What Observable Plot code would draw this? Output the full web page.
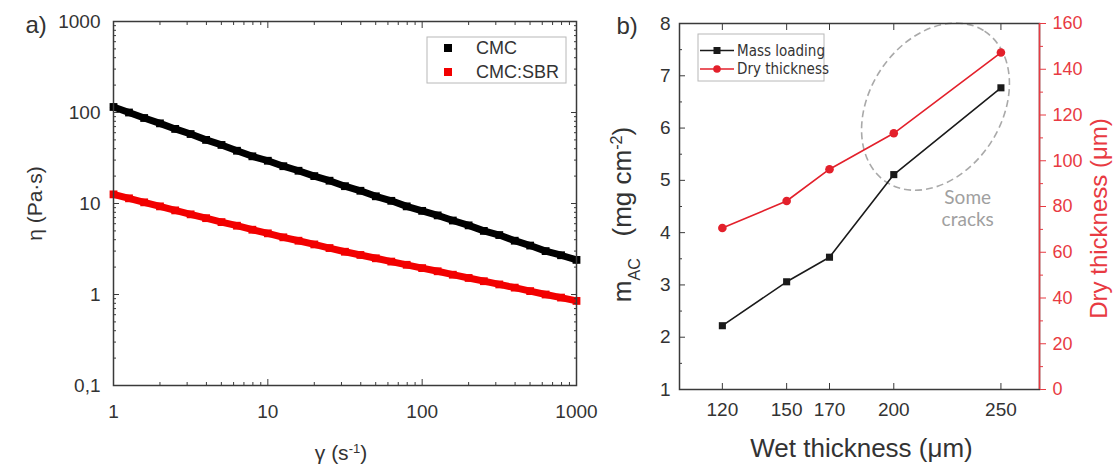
<!DOCTYPE html>
<html><head><meta charset="utf-8">
<script src="https://cdn.jsdelivr.net/npm/d3@7"></script>
<script src="https://cdn.jsdelivr.net/npm/@observablehq/plot@0.6"></script>
<style>
body{margin:0;background:#fff;}
#wrap{position:relative;width:1115px;height:472px;overflow:hidden;background:#fff;}
#a{position:absolute;left:0;top:0;}
#b{position:absolute;left:580px;top:0;}
</style></head><body><div id="wrap"><div id="a"></div><div id="b"></div></div>
<script>
// ---------- Panel a data ----------
const shearRate = [1,1.26,1.58,2,2.51,3.16,3.98,5.01,6.31,7.94,10,12.6,15.8,20,25.1,31.6,39.8,50.1,63.1,79.4,100,126,158,200,251,316,398,501,631,794,1000];
const etaCMC = [115,100,87,76,66,58,50,44,38,33,29.5,25.7,22.9,20,17.8,15.5,13.8,12,10.7,9.3,8.3,7.4,6.5,5.75,5.0,4.5,3.9,3.45,3.0,2.7,2.4];
const etaCMCSBR = [12.6,11.4,10.3,9.3,8.4,7.6,6.9,6.25,5.7,5.15,4.7,4.25,3.9,3.55,3.24,2.95,2.72,2.5,2.3,2.12,1.95,1.8,1.65,1.52,1.4,1.29,1.19,1.09,1.0,0.925,0.85];
const seriesA = ["CMC","CMC:SBR"];
const colorsA = ["#000000","#f20000"];
const yTicksA = [0.1,1,10,100,1000];
const yTickLabelsA = ["0,1","1","10","100","1000"];
const xTicksA = [1,10,100,1000];
const xTickLabelsA = ["1","10","100","1000"];

// ---------- Panel b data ----------
const wetThickness = [120,150,170,200,250];
const massLoading = [2.22,3.06,3.53,5.11,6.77];
const dryThickness = [70.6,82.4,96.3,112,147.3];
const seriesB = ["Mass loading","Dry thickness"];
const colorsB = ["#1a1a1a","#e3202b"];
const leftTicksB = [1,2,3,4,5,6,7,8];
const rightTicksB = [0,20,40,60,80,100,120,140,160];
const xDomainB = [100,268];
const leftDomainB = [1,8];
const rightDomainB = [0,160];
const crackCenter = [219.7, 6.40];
const crackTextPos = [234.5, 4.47];

const axisRed = "#e83a42";
const FONT = "'Liberation Sans', Arial, sans-serif";

// helpers
function logMinor(lo, hi) { const out=[]; for (let d=lo; d<hi; d*=10) for (let k=2;k<=9;k++) out.push(d*k); return out; }
const toLeft = v => leftDomainB[0] + (v - rightDomainB[0]) * (leftDomainB[1]-leftDomainB[0])/(rightDomainB[1]-rightDomainB[0]);
const fromLeft = v => rightDomainB[0] + (v - leftDomainB[0]) * (rightDomainB[1]-rightDomainB[0])/(leftDomainB[1]-leftDomainB[0]);

function rich(svg, plain, parts) {
  d3.select(svg).selectAll("text").filter(function(){return this.textContent === plain;}).each(function(){
    const t = d3.select(this); t.text("").style("white-space","pre");
    parts.forEach(p => {
      const ts = t.append("tspan").text(p.t);
      if (p.sup) ts.attr("baseline-shift","super").attr("font-size","62%");
      if (p.sub) ts.attr("baseline-shift","sub").attr("font-size","62%");
    });
  });
}

// ---------- Panel a ----------
const cmc = shearRate.map((g,i)=>({g, eta: etaCMC[i]}));
const sbr = shearRate.map((g,i)=>({g, eta: etaCMCSBR[i]}));
const minorA_y = logMinor(0.1, 1000);
const minorA_x = logMinor(1, 1000);

function legendA(index, scales, values, dim) {
  const g = d3.create("svg:g");
  const x0 = dim.width - dim.marginRight - 149, y0 = dim.marginTop + 16;
  g.append("rect").attr("x",x0).attr("y",y0).attr("width",139).attr("height",46)
    .attr("fill","white").attr("stroke","#b8b8b8").attr("stroke-width",1);
  seriesA.forEach((name,i)=>{
    g.append("rect").attr("x",x0+17).attr("y",y0+7+i*24).attr("width",8).attr("height",8).attr("fill",colorsA[i]);
    g.append("text").attr("x",x0+49).attr("y",y0+11+i*24).attr("dy","0.36em")
      .attr("text-anchor","start").attr("font-size",18).attr("fill","#333").text(name);
  });
  return g.node();
}

const plotA = Plot.plot({
  width: 580, height: 472,
  marginLeft: 113, marginRight: 4, marginTop: 21, marginBottom: 87,
  style: {fontFamily: FONT, fontSize: "19px", color: "#333", background: "white", overflow: "visible"},
  x: {type: "log", domain: [1,1000], axis: null},
  y: {type: "log", domain: [0.1,1000], axis: null},
  marks: [
    Plot.line(cmc, {x:"g", y:"eta", stroke: colorsA[0], strokeWidth: 7}),
    Plot.dot(cmc, {x:"g", y:"eta", symbol:"square", r: 4.4, fill: colorsA[0]}),
    Plot.line(sbr, {x:"g", y:"eta", stroke: colorsA[1], strokeWidth: 7}),
    Plot.dot(sbr, {x:"g", y:"eta", symbol:"square", r: 4.4, fill: colorsA[1]}),
    Plot.frame({stroke:"#3a3a3a", strokeWidth: 1.5}),
    // ticks (inward, mirrored)
    Plot.axisY(yTicksA, {anchor:"left", tickSize:-6, tickFormat: () => "", label: null, stroke:"#3a3a3a"}),
    Plot.axisY(minorA_y, {anchor:"left", tickSize:-3, tickFormat: () => "", label: null, stroke:"#3a3a3a"}),
    Plot.axisY(yTicksA, {anchor:"right", tickSize:-6, tickFormat: () => "", label: null, stroke:"#3a3a3a"}),
    Plot.axisY(minorA_y, {anchor:"right", tickSize:-3, tickFormat: () => "", label: null, stroke:"#3a3a3a"}),
    Plot.axisX(xTicksA, {anchor:"bottom", tickSize:-6, tickFormat: () => "", label: null, stroke:"#3a3a3a"}),
    Plot.axisX(minorA_x, {anchor:"bottom", tickSize:-3, tickFormat: () => "", label: null, stroke:"#3a3a3a"}),
    Plot.axisX(xTicksA, {anchor:"top", tickSize:-6, tickFormat: () => "", label: null, stroke:"#3a3a3a"}),
    Plot.axisX(minorA_x, {anchor:"top", tickSize:-3, tickFormat: () => "", label: null, stroke:"#3a3a3a"}),
    // tick labels
    Plot.axisY(yTicksA, {anchor:"left", tickSize:0, tickPadding: 13, tickFormat: d => yTickLabelsA[yTicksA.indexOf(d)], label: null}),
    Plot.axisX(xTicksA, {anchor:"bottom", tickSize:0, tickPadding: 19, tickFormat: d => xTickLabelsA[xTicksA.indexOf(d)], label: null}),
    // titles
    Plot.text(["η (Pa·s)"], {frameAnchor:"left", dx:-78, rotate:-90, textAnchor:"middle", lineAnchor:"middle", fontSize: 21, fill:"#333"}),
    Plot.text(["γ (s-1)"], {frameAnchor:"bottom", dx:-4, dy:68, textAnchor:"middle", lineAnchor:"middle", fontSize: 21, fill:"#333"}),
    Plot.text(["a)"], {frameAnchor:"top-left", dx:-88, dy:4, textAnchor:"start", lineAnchor:"middle", fontSize: 24, fill:"#333"}),
    legendA
  ]
});
rich(plotA, "γ (s-1)", [{t:"γ (s"},{t:"-1",sup:true},{t:")"}]);
document.getElementById("a").append(plotA);

// ---------- Panel b ----------
const massData = wetThickness.map((w,i)=>({w, v: massLoading[i]}));
const dryData = wetThickness.map((w,i)=>({w, v: toLeft(dryThickness[i])}));
const leftMinorB = leftTicksB.slice(0,-1).map(d => d + 0.5);
const rightMinorB = rightTicksB.slice(0,-1).map(d => d + 10);

function legendB(index, scales, values, dim) {
  const g = d3.create("svg:g");
  const x0 = dim.marginLeft + 19, y0 = dim.marginTop + 11;
  g.append("rect").attr("x",x0).attr("y",y0).attr("width",126).attr("height",47)
    .attr("fill","white").attr("stroke","#b8b8b8").attr("stroke-width",1);
  seriesB.forEach((name,i)=>{
    const yy = y0 + 16.5 + i*18.5;
    g.append("line").attr("x1",x0+2).attr("x2",x0+36).attr("y1",yy).attr("y2",yy)
      .attr("stroke",colorsB[i]).attr("stroke-width",1.5);
    if (i === 0) g.append("rect").attr("x",x0+15.5).attr("y",yy-3.5).attr("width",7).attr("height",7).attr("fill",colorsB[i]);
    else g.append("circle").attr("cx",x0+19).attr("cy",yy).attr("r",3.8).attr("fill",colorsB[i]);
    g.append("text").attr("x",x0+39).attr("y",yy).attr("dy","0.36em").attr("text-anchor","start")
      .attr("font-size",15).attr("font-family","'Liberation Sans Narrow','DejaVu Sans Condensed','Liberation Sans',sans-serif")
      .attr("fill","#333").text(name);
  });
  return g.node();
}

function crackEllipse(index, {x, y}) {
  const cx = x(crackCenter[0]), cy = y(crackCenter[1]);
  return d3.create("svg:ellipse")
    .attr("cx", cx).attr("cy", cy).attr("rx", 90).attr("ry", 66)
    .attr("transform", `rotate(-57 ${cx} ${cy})`)
    .attr("fill","none").attr("stroke","#a9a9a9").attr("stroke-width",1.6)
    .attr("stroke-dasharray","7,4").node();
}

const plotB = Plot.plot({
  width: 535, height: 472,
  marginLeft: 99, marginRight: 76, marginTop: 23, marginBottom: 83,
  style: {fontFamily: FONT, fontSize: "19px", color: "#333", background: "none", overflow: "visible"},
  x: {type: "linear", domain: xDomainB, axis: null},
  y: {type: "linear", domain: leftDomainB, axis: null},
  marks: [
    crackEllipse,
    Plot.text([ "Some\ncracks" ], {x: () => crackTextPos[0], y: () => crackTextPos[1], fontSize: 19, lineHeight: 1.15, fill:"#a0a0a0", fontFamily:"Lato, 'Open Sans', sans-serif"}),
    Plot.line(massData, {x:"w", y:"v", stroke: colorsB[0], strokeWidth: 1.6}),
    Plot.dot(massData, {x:"w", y:"v", symbol:"square", r: 4, fill: colorsB[0]}),
    Plot.line(dryData, {x:"w", y:"v", stroke: colorsB[1], strokeWidth: 1.6}),
    Plot.dot(dryData, {x:"w", y:"v", r: 4.3, fill: colorsB[1]}),
    Plot.frame({stroke:"#3a3a3a", strokeWidth: 1.5}),
    Plot.ruleX([xDomainB[1]], {stroke: axisRed, strokeWidth: 1.5}),
    // ticks
    Plot.axisY(leftTicksB, {anchor:"left", tickSize:-6, tickFormat: () => "", label:null, stroke:"#3a3a3a"}),
    Plot.axisY(leftMinorB, {anchor:"left", tickSize:-3, tickFormat: () => "", label:null, stroke:"#3a3a3a"}),
    Plot.axisX(wetThickness, {anchor:"bottom", tickSize:-6, tickFormat: () => "", label:null, stroke:"#3a3a3a"}),
    Plot.axisX(wetThickness, {anchor:"top", tickSize:-6, tickFormat: () => "", label:null, stroke:"#3a3a3a"}),
    Plot.axisY(rightTicksB.map(toLeft), {anchor:"right", tickSize:6, tickFormat: () => "", label:null, stroke: axisRed}),
    Plot.axisY(rightMinorB.map(toLeft), {anchor:"right", tickSize:3, tickFormat: () => "", label:null, stroke: axisRed}),
    // tick labels
    Plot.axisY(leftTicksB, {anchor:"left", tickSize:0, tickPadding: 9, tickFormat: d => String(d), label:null}),
    Plot.axisX(wetThickness, {anchor:"bottom", tickSize:0, tickPadding: 13, tickFormat: d => String(d), label:null}),
    Plot.axisY(rightTicksB.map(toLeft), {anchor:"right", tickSize:0, tickPadding: 13, tickFormat: v => String(Math.round(fromLeft(v))), label:null, fill: axisRed, fontSize: 18}),
    // titles
    Plot.text(["mAC (mg cm-2)"], {frameAnchor:"left", dx:-57, dy:8, rotate:-90, textAnchor:"middle", lineAnchor:"middle", fontSize: 26, fill:"#333"}),
    Plot.text(["Dry thickness (μm)"], {frameAnchor:"right", dx:60, dy:12, rotate:-90, textAnchor:"middle", lineAnchor:"middle", fontSize: 24, fill: axisRed}),
    Plot.text(["Wet thickness (μm)"], {frameAnchor:"bottom", dx:2, dy:59, textAnchor:"middle", lineAnchor:"middle", fontSize: 26, fill:"#333"}),
    Plot.text(["b)"], {frameAnchor:"top-left", dx:-63, dy:3, textAnchor:"start", lineAnchor:"middle", fontSize: 24, fill:"#333"}),
    legendB
  ]
});
rich(plotB, "mAC (mg cm-2)", [{t:"m"},{t:"AC",sub:true},{t:"   (mg cm"},{t:"-2",sup:true},{t:")"}]);
document.getElementById("b").append(plotB);
</script>
</body></html>
